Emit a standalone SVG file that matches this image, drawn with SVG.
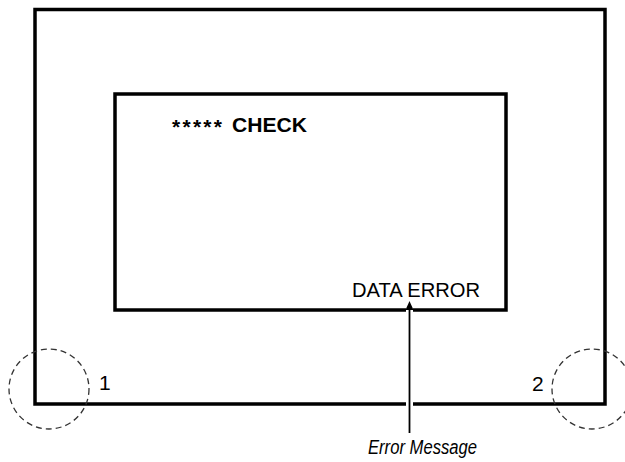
<svg xmlns="http://www.w3.org/2000/svg" width="625" height="462" viewBox="0 0 625 462">
<defs>
<style>
.frame{fill:none;stroke:#000;stroke-width:3.5}
.zone{fill:none;stroke:#333;stroke-width:1.3;stroke-dasharray:6 4}
.lbl{font-family:"Liberation Sans",Arial,sans-serif;fill:#000}
.gap{stroke:#fff;stroke-width:7}
</style>
</defs>
<rect width="625" height="462" fill="#fff"/>
<g id="device">
<rect class="frame" x="35" y="9.5" width="570" height="394.5"/>
</g>
<g id="screen">
<rect class="frame" x="115" y="94" width="391" height="216"/>
<text class="lbl" font-weight="bold" font-size="21"><tspan x="172" y="134" textLength="50" lengthAdjust="spacing">*****</tspan><tspan x="232" y="132" textLength="75" lengthAdjust="spacingAndGlyphs">CHECK</tspan></text>
<text class="lbl" x="352" y="297" font-size="21" textLength="128" lengthAdjust="spacingAndGlyphs">DATA ERROR</text>
</g>
<g id="corner1">
<circle class="zone" cx="49" cy="389" r="40"/>
<text class="lbl" x="99" y="390" font-size="21">1</text>
</g>
<g id="corner2">
<circle class="zone" cx="592" cy="389" r="40"/>
<text class="lbl" x="532" y="391" font-size="21">2</text>
</g>
<g id="connectors">
<line class="gap" x1="409.5" y1="306" x2="409.5" y2="314" stroke-width="13"/>
<line class="gap" x1="409.5" y1="400" x2="409.5" y2="408"/>
<line x1="409.5" y1="433" x2="409.5" y2="308" stroke="#000" stroke-width="1.8"/>
<polygon points="409.5,301 413.5,310 405.5,310" fill="#000"/>
</g>
<g id="error-message">
<text class="lbl" x="368" y="454" font-size="20" font-style="italic" textLength="109" lengthAdjust="spacingAndGlyphs">Error Message</text>
</g>
</svg>
